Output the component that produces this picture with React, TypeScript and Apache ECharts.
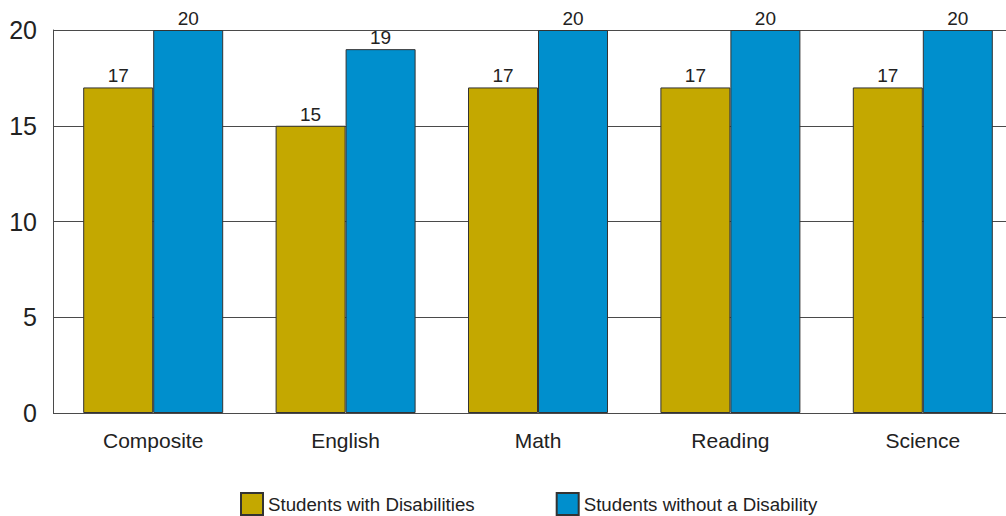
import React, { useEffect, useRef } from "react";
import * as echarts from "echarts";

const categories = ["Composite", "English", "Math", "Reading", "Science"];
const withDisabilities = [17, 15, 17, 17, 17];
const withoutDisability = [20, 19, 20, 20, 20];
const seriesNames = ["Students with Disabilities", "Students without a Disability"];
const yTicks = { min: 0, max: 20, interval: 5 };

const GOLD = "#C4A800";
const BLUE = "#008FCD";
const LINE = "#4a4a4a";
const FONT = "'Liberation Sans', Arial, sans-serif";

export default function App() {
  const ref = useRef<HTMLDivElement>(null);

  useEffect(() => {
    if (!ref.current) return;
    const chart = echarts.init(ref.current, undefined, { renderer: "svg" });

    const barLabel = {
      show: true,
      position: "top",
      distance: 2,
      color: "#222",
      fontSize: 19,
      fontFamily: FONT,
    };

    chart.setOption({
      animation: false,
      backgroundColor: "#fff",
      textStyle: { fontFamily: FONT },
      grid: [
        // frame: value axis line and horizontal rules
        { left: 53, width: 966, top: 30, height: 383, outerBoundsMode: "none" },
        // bars and categories
        { left: 57, width: 962, top: 30, height: 383, outerBoundsMode: "none" },
      ],
      xAxis: [
        { type: "value", gridIndex: 0, show: false, min: 0, max: 1 },
        {
          type: "category",
          gridIndex: 1,
          data: categories,
          axisLine: { show: false },
          axisTick: { show: false },
          axisLabel: { fontSize: 21, color: "#222", margin: 17, fontFamily: FONT },
        },
      ],
      yAxis: [
        {
          type: "value",
          gridIndex: 0,
          ...yTicks,
          axisLine: { show: true, lineStyle: { color: LINE, width: 1 } },
          axisTick: { show: false },
          axisLabel: { fontSize: 25, color: "#222", margin: 16, fontFamily: FONT },
          splitLine: { show: true, lineStyle: { color: LINE, width: 1 } },
        },
        { type: "value", gridIndex: 1, ...yTicks, show: false, splitLine: { show: false } },
      ],
      legend: {
        left: 240,
        top: 492,
        padding: 0,
        itemWidth: 22,
        itemHeight: 22,
        itemGap: 81,
        icon: "rect",
        textStyle: { fontSize: 18.7, color: "#222", fontFamily: FONT },
        data: seriesNames,
      },
      series: [
        {
          name: seriesNames[0],
          type: "bar",
          xAxisIndex: 1,
          yAxisIndex: 1,
          data: withDisabilities,
          barWidth: 70,
          barGap: "0%",
          itemStyle: { color: GOLD, borderColor: "#333", borderWidth: 1 },
          label: barLabel,
        },
        {
          name: seriesNames[1],
          type: "bar",
          xAxisIndex: 1,
          yAxisIndex: 1,
          data: withoutDisability,
          barWidth: 70,
          barGap: "0%",
          itemStyle: { color: BLUE, borderColor: "#333", borderWidth: 1 },
          label: barLabel,
        },
      ],
    });

    return () => chart.dispose();
  }, []);

  return <div ref={ref} style={{ width: 1006, height: 516, position: "absolute", left: 0, top: 0 }} />;
}
